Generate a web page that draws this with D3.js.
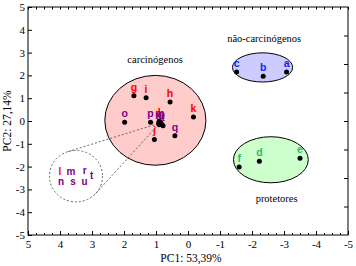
<!DOCTYPE html>
<html><head><meta charset="utf-8">
<script src="https://cdn.jsdelivr.net/npm/d3@7/dist/d3.min.js"></script>
<style>
html,body{margin:0;padding:0;background:#fff;}
svg{display:block;}
</style></head>
<body>
<svg id="chart" width="356" height="266"></svg>
<script>
// ---- data ----
const labels = ['a','b','c','d','e','f','g','h','i','j','k','l','m','n','o','p','q','r','s','t','u'];
const pc1 = [-3.08,-2.35,-1.52,-2.23,-3.50,-1.60,1.69,0.56,1.31,1.05,-0.17,0.90,0.88,0.92,1.98,1.17,0.41,0.85,0.90,0.78,0.82];
const pc2 = [2.15,1.96,2.15,-1.77,-1.63,-2.02,1.11,0.83,1.02,-0.81,0.17,-0.01,-0.06,-0.11,-0.05,-0.06,-0.65,-0.08,-0.16,-0.21,-0.14];
const groups = ['nc','nc','nc','pr','pr','pr','cr','cr','cr','cr','cr','cr','cp','cp','cp','cp','cp','cp','cp','cp','cp'];
const groupColors = {nc:'#1a1aff', pr:'#33b866', cr:'#ff0000', cp:'#800080'};

const xTicks = [5,4,3,2,1,0,-1,-2,-3,-4,-5];
const yTicks = [5,4,3,2,1,0,-1,-2,-3,-4,-5];
const xTitle = 'PC1: 53,39%';
const yTitle = 'PC2: 27,14%';

// group ellipses (data units): name, cx, cy, rx, ry, fill
const ellNames = ['carcinógenos','não-carcinógenos','protetores'];
const ellCx = [1.02, -2.33, -2.59];
const ellCy = [0.03, 2.35, -1.70];
const ellRx = [1.58, 0.94, 1.17];
const ellRy = [1.97, 0.64, 1.01];
const ellFill = ['#ffcccc','#ccccff','#ccffcc'];
const ellLabelX = [1.03, -2.38, -2.77];
const ellLabelY = [2.72, 3.61, -3.41];

// zoom inset
const insetCx = 3.5, insetCy = -2.42, insetRx = 0.83, insetRy = 1.13;
const insetTarget = [0.88, -0.09];
const insetLabels = ['l','m','r','t','n','s','u'];
const insetX = [4.00, 3.66, 3.23, 3.01, 3.97, 3.59, 3.23];
const insetY = [-2.21, -2.20, -2.15, -2.38, -2.65, -2.64, -2.64];

// ---- drawing ----
const svg = d3.select('#chart');
const L = 28, R = 348, T = 7, B = 235;
const x = d3.scaleLinear().domain([5,-5]).range([L,R]);
const y = d3.scaleLinear().domain([5,-5]).range([T,B]);
const serif = "'Liberation Serif','Times New Roman',serif";
const sans = "'Liberation Sans',Arial,sans-serif";

// ellipses
ellNames.forEach((n,i)=>{
  svg.append('ellipse')
    .attr('cx', x(ellCx[i])).attr('cy', y(ellCy[i]))
    .attr('rx', Math.abs(x(ellRx[i]) - x(0))).attr('ry', Math.abs(y(ellRy[i]) - y(0)))
    .attr('fill', ellFill[i]).attr('stroke','#000').attr('stroke-width',1);
  svg.append('text')
    .attr('x', x(ellLabelX[i])).attr('y', y(ellLabelY[i])).attr('dy','0.35em')
    .attr('text-anchor','middle').attr('font-family',serif).attr('font-size',10.5)
    .attr('fill','#000').text(n);
});

// inset circle with tangent lines
const icx = x(insetCx), icy = y(insetCy);
const irx = Math.abs(x(insetRx)-x(0)), iry = Math.abs(y(insetRy)-y(0));
svg.append('ellipse').attr('cx',icx).attr('cy',icy).attr('rx',irx).attr('ry',iry)
  .attr('fill','none').attr('stroke','#555').attr('stroke-width',0.9).attr('stroke-dasharray','2,2');
{
  const px = x(insetTarget[0]), py = y(insetTarget[1]);
  const r = (irx+iry)/2;
  const dx = px-icx, dy = py-icy, d = Math.hypot(dx,dy);
  const base = Math.atan2(dy,dx), off = Math.acos(r/d);
  [base-off, base+off].forEach(a=>{
    svg.append('line')
      .attr('x1', icx + irx*Math.cos(a)).attr('y1', icy + iry*Math.sin(a))
      .attr('x2', px).attr('y2', py)
      .attr('stroke','#555').attr('stroke-width',0.9).attr('stroke-dasharray','2,2');
  });
}
insetLabels.forEach((t,i)=>{
  const gi = labels.indexOf(t);
  svg.append('text').attr('x',x(insetX[i])).attr('y',y(insetY[i])).attr('dy','0.35em')
    .attr('text-anchor','middle').attr('font-family',sans).attr('font-weight','bold')
    .attr('font-size',10).attr('fill',groupColors[groups[gi]]).text(t);
});

// point labels
svg.append('g').selectAll('text').data(labels).join('text')
  .attr('x',(d,i)=>x(pc1[i])).attr('y',(d,i)=>y(pc2[i])-5)
  .attr('text-anchor','middle').attr('font-family',sans).attr('font-weight','bold')
  .attr('font-size',10.5).attr('fill',(d,i)=>groupColors[groups[i]]).text(d=>d);

// points
svg.append('g').selectAll('circle').data(labels).join('circle')
  .attr('cx',(d,i)=>x(pc1[i])).attr('cy',(d,i)=>y(pc2[i])).attr('r',2.5).attr('fill','#000');

// axes
const fmt = d => String(d);
const minorX = d3.range(-5,5.001,0.25);
function styleAxis(g){ g.select('.domain').remove(); g.selectAll('line').attr('stroke','#000'); g.selectAll('text').attr('font-family',serif).attr('font-size',11).attr('fill','#000'); }
svg.append('g').attr('transform',`translate(0,${B})`)
  .call(d3.axisBottom(x).tickValues(minorX).tickSize(-2).tickFormat(''))
  .call(styleAxis);
svg.append('g').attr('transform',`translate(0,${B})`)
  .call(d3.axisBottom(x).tickValues(xTicks).tickSize(-4).tickPadding(5).tickFormat(fmt))
  .call(styleAxis);
svg.append('g').attr('transform',`translate(0,${T})`)
  .call(d3.axisTop(x).tickValues(minorX).tickSize(-2.5).tickFormat(''))
  .call(styleAxis);
svg.append('g').attr('transform',`translate(${L},0)`)
  .call(d3.axisLeft(y).tickValues(yTicks).tickSize(-4).tickPadding(3).tickFormat(fmt))
  .call(styleAxis);
const yR = d3.scaleLinear().domain([0,8]).range([B,T]);
svg.append('g').attr('transform',`translate(${R},0)`)
  .call(d3.axisRight(yR).tickValues(d3.range(1,8)).tickSize(-4).tickFormat(''))
  .call(styleAxis);

// frame
svg.append('rect').attr('x',L).attr('y',T).attr('width',R-L).attr('height',B-T)
  .attr('fill','none').attr('stroke','#000').attr('stroke-width',1);

// titles
svg.append('text').attr('x',(L+R)/2+3).attr('y',262).attr('text-anchor','middle')
  .attr('font-family',serif).attr('font-size',11.5).attr('fill','#000').text(xTitle);
svg.append('text').attr('transform',`translate(11,${(T+B)/2}) rotate(-90)`).attr('text-anchor','middle')
  .attr('font-family',serif).attr('font-size',11.5).attr('fill','#000').text(yTitle);
</script>
</body></html>
